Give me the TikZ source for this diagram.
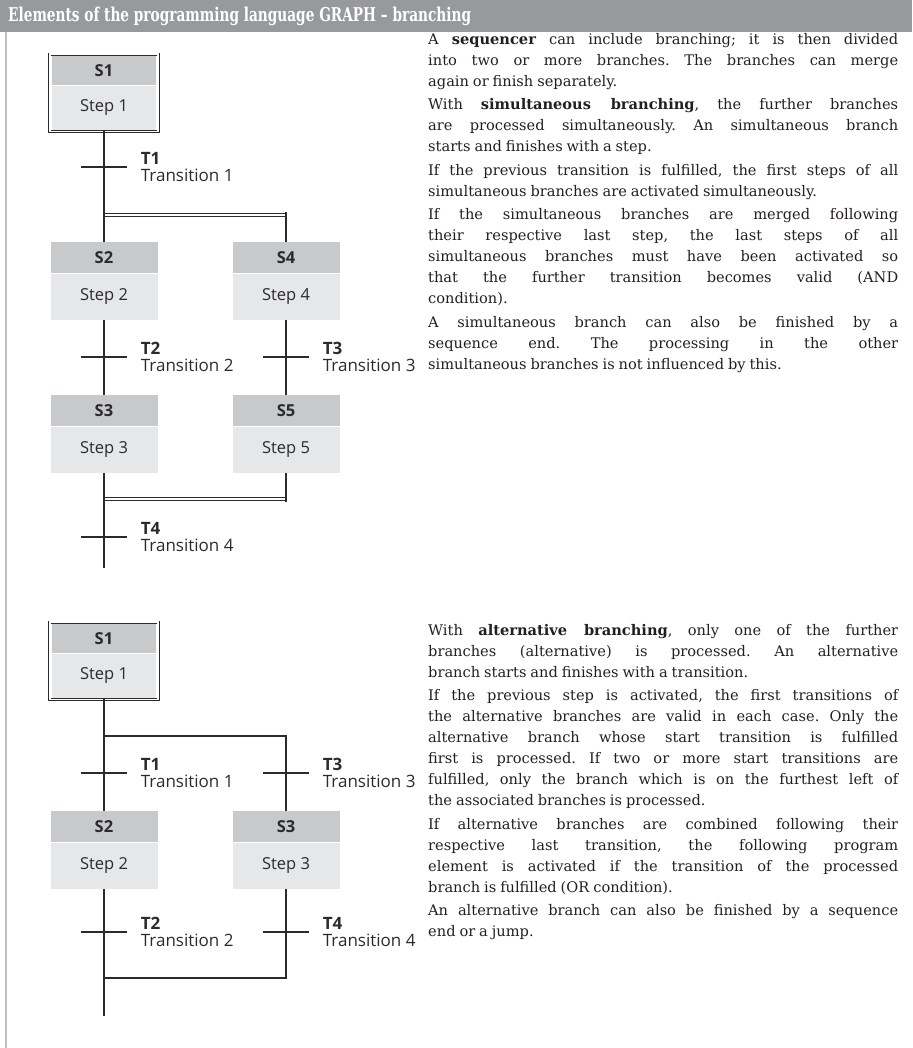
\documentclass[tikz,border=0pt]{standalone}
\usepackage{fontspec}
\setmainfont[WordSpace=0.85]{DejaVu Serif}
\newfontfamily\stepfont{Open Sans}
\newfontfamily\titlefont[FakeStretch=0.72]{DejaVu Serif}
\usepackage{xcolor}
\usetikzlibrary{positioning}
\frenchspacing

\definecolor{barcolor}{HTML}{98999B}
\definecolor{framecol}{HTML}{BDBEC0}
\definecolor{headgray}{HTML}{C8C9CB}
\definecolor{bodygray}{HTML}{E6E7E8}
\definecolor{linecol}{HTML}{2B2B2B}
\definecolor{textcol}{HTML}{231F20}

\tikzset{
  stephead/.style={fill=headgray, minimum width=107pt, minimum height=31pt,
    inner sep=0pt, anchor=north, text=linecol,
    font=\stepfont\bfseries\fontsize{16.5}{18}\selectfont},
  stepbody/.style={fill=bodygray, minimum width=107pt, minimum height=46pt,
    inner sep=0pt, text=linecol, font=\stepfont\fontsize{16.5}{18}\selectfont},
  initframe/.style={draw=linecol, double=white, double distance=1.3pt, line width=0.9pt},
  flow/.style={draw=linecol, line width=1.8pt},
  simline/.style={draw=linecol, double=white, double distance=1.8pt, line width=1.2pt},
  tbar/.style={draw=linecol, line width=1.8pt},
  tlabel/.style={anchor=west, xshift=13pt, align=left, inner sep=0pt, text=linecol,
    font=\stepfont\fontsize{17}{17.5}\selectfont},
  bodytext/.style={anchor=north west, text width=470pt, align=justify, inner sep=0pt,
    text=textcol, font=\fontsize{14.6}{21}\selectfont\frenchspacing}
}

\begin{document}
\begin{tikzpicture}[x=1pt, y=-1pt]
  \useasboundingbox (0,0) rectangle (912,1048);
  % title bar
  \fill[barcolor] (0,0) rectangle (912,32);
  \node[anchor=west, inner sep=0pt, text=white, font=\titlefont\bfseries\fontsize{19}{22}\selectfont]
    (title) at (8,16) {Elements of the programming language GRAPH – branching};
  \draw[framecol, line width=2pt] (6,32) -- (6,1048);

  % simultaneous branching
  \node[stephead, minimum width=104pt, minimum height=29pt] (a1h) at (104,56) {S1};
  \node[stepbody, minimum width=104pt, minimum height=44pt, below=0pt of a1h] (a1) {Step 1};
  \draw[initframe] ([shift={(-1.9pt,1.9pt)}]a1h.north west) rectangle ([shift={(1.9pt,-1.9pt)}]a1.south east);
  \node[stephead] (a2h) at (104,242) {S2};
  \node[stepbody, below=0pt of a2h] (a2) {Step 2};
  \node[stephead] (a4h) at (286,242) {S4};
  \node[stepbody, below=0pt of a4h] (a4) {Step 4};
  \node[stephead] (a3h) at (104,395) {S3};
  \node[stepbody, below=0pt of a3h] (a3) {Step 3};
  \node[stephead] (a5h) at (286,395) {S5};
  \node[stepbody, below=0pt of a5h] (a5) {Step 5};

  \coordinate (afork) at (104,215);
  \coordinate (aforkr) at (286,212);
  \coordinate (ajoin) at (104,499);
  \coordinate (ajoinr) at (286,501.5);
  \coordinate (aend) at (104,568);

  \draw[simline] (afork) -- (afork -| 287,0);
  \draw[simline] (ajoin) -- (ajoin -| 287,0);
  \draw[flow] (a1.south) -- (a2h.north);
  \draw[flow] (aforkr) -- (a4h.north);
  \draw[flow] (a2.south) -- (a3h.north);
  \draw[flow] (a4.south) -- (a5h.north);
  \draw[flow] (a5.south) -- (ajoinr);
  \draw[flow] (a3.south) -- (aend);

  \coordinate (at1) at (104,167);
  \coordinate (at2) at (104,357);
  \coordinate (at3) at (286,357);
  \coordinate (at4) at (104,537);
  \draw[tbar] ([xshift=-23pt]at1) -- ([xshift=23pt]at1) node[tlabel] (at1l) {\textbf{T1}\\Transition 1};
  \draw[tbar] ([xshift=-23pt]at2) -- ([xshift=23pt]at2) node[tlabel] (at2l) {\textbf{T2}\\Transition 2};
  \draw[tbar] ([xshift=-23pt]at3) -- ([xshift=23pt]at3) node[tlabel] (at3l) {\textbf{T3}\\Transition 3};
  \draw[tbar] ([xshift=-23pt]at4) -- ([xshift=23pt]at4) node[tlabel] (at4l) {\textbf{T4}\\Transition 4};

  % alternative branching
  \node[stephead, minimum width=104pt, minimum height=29pt] (b1h) at (104,624) {S1};
  \node[stepbody, minimum width=104pt, minimum height=44pt, below=0pt of b1h] (b1) {Step 1};
  \draw[initframe] ([shift={(-1.9pt,1.9pt)}]b1h.north west) rectangle ([shift={(1.9pt,-1.9pt)}]b1.south east);
  \node[stephead] (b2h) at (104,811) {S2};
  \node[stepbody, below=0pt of b2h] (b2) {Step 2};
  \node[stephead] (b3h) at (286,811) {S3};
  \node[stepbody, below=0pt of b3h] (b3) {Step 3};

  \coordinate (bfork) at (104,736);
  \coordinate (bjoin) at (104,978);
  \coordinate (bend) at (104,1016);

  \draw[flow] (b1.south) -- (b2h.north);
  \draw[flow] (bfork) -- (bfork -| b3h.north) -- (b3h.north);
  \draw[flow] (b2.south) -- (bend);
  \draw[flow] (b3.south) -- (b3.south |- bjoin) -- (bjoin);

  \coordinate (bt1) at (104,773);
  \coordinate (bt3) at (286,773);
  \coordinate (bt2) at (104,932);
  \coordinate (bt4) at (286,932);
  \draw[tbar] ([xshift=-23pt]bt1) -- ([xshift=23pt]bt1) node[tlabel] (bt1l) {\textbf{T1}\\Transition 1};
  \draw[tbar] ([xshift=-23pt]bt3) -- ([xshift=23pt]bt3) node[tlabel] (bt3l) {\textbf{T3}\\Transition 3};
  \draw[tbar] ([xshift=-23pt]bt2) -- ([xshift=23pt]bt2) node[tlabel] (bt2l) {\textbf{T2}\\Transition 2};
  \draw[tbar] ([xshift=-23pt]bt4) -- ([xshift=23pt]bt4) node[tlabel] (bt4l) {\textbf{T4}\\Transition 4};

  % explanations
  \node[bodytext] (atext) at (428,33) {%
    A \textbf{sequencer} can include branching; it is then divided\linebreak
    into two or more branches. The branches can merge\linebreak
    again or finish separately.\\[2.5pt]
    With \textbf{simultaneous branching}, the further branches\linebreak
    are processed simultaneously. An simultaneous branch\linebreak
    starts and finishes with a step.\\[2.5pt]
    If the previous transition is fulfilled, the first steps of all\linebreak
    simultaneous branches are activated simultaneously.\\[2.5pt]
    If the simultaneous branches are merged following\linebreak
    their respective last step, the last steps of all\linebreak
    simultaneous branches must have been activated so\linebreak
    that the further transition becomes valid (AND\linebreak
    condition).\\[2.5pt]
    A simultaneous branch can also be finished by a\linebreak
    sequence end. The processing in the other\linebreak
    simultaneous branches is not influenced by this.};
  \node[bodytext] (btext) at (428,624) {%
    With \textbf{alternative branching}, only one of the further\linebreak
    branches (alternative) is processed. An alternative\linebreak
    branch starts and finishes with a transition.\\[2.5pt]
    If the previous step is activated, the first transitions of\linebreak
    the alternative branches are valid in each case. Only the\linebreak
    alternative branch whose start transition is fulfilled\linebreak
    first is processed. If two or more start transitions are\linebreak
    fulfilled, only the branch which is on the furthest left of\linebreak
    the associated branches is processed.\\[2.5pt]
    If alternative branches are combined following their\linebreak
    respective last transition, the following program\linebreak
    element is activated if the transition of the processed\linebreak
    branch is fulfilled (OR condition).\\[2.5pt]
    An alternative branch can also be finished by a sequence\linebreak
    end or a jump.};
\end{tikzpicture}
\end{document}
